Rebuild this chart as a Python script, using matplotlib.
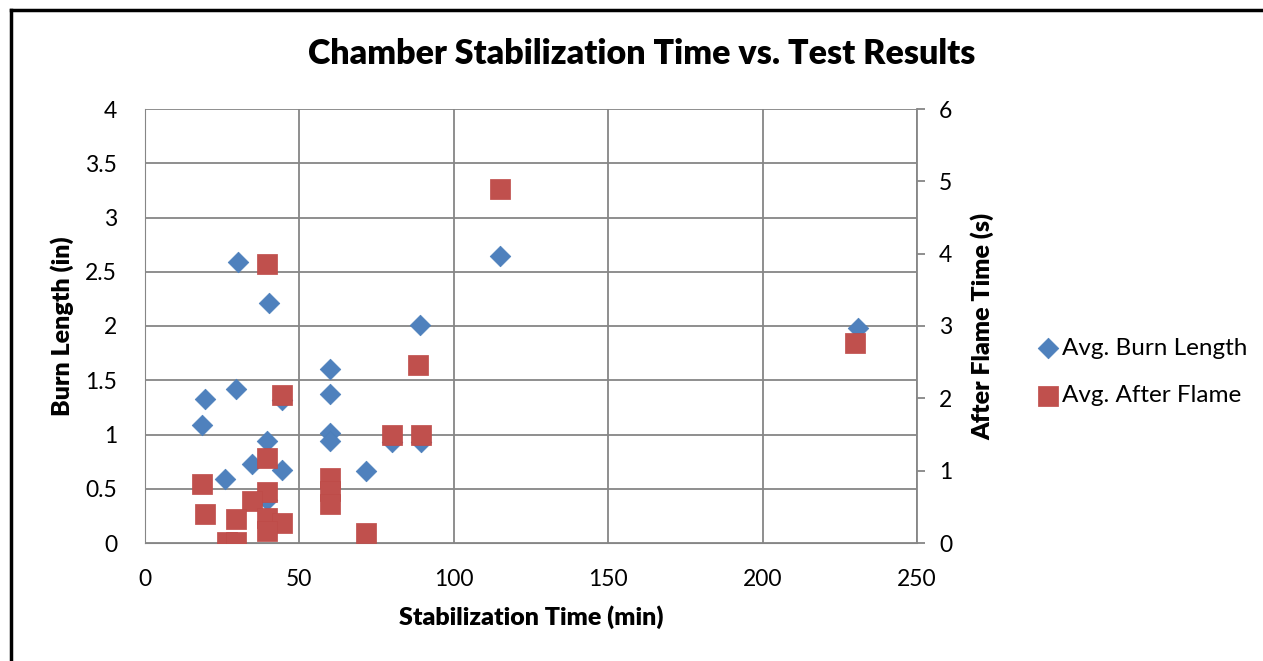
import matplotlib.pyplot as plt
from matplotlib.lines import Line2D

plt.rcParams['font.family'] = ['Lato', 'DejaVu Sans']

# stabilization time (min) vs average burn length (in)
burn_x = [30, 40, 115, 231, 89, 60, 60, 19.5, 29.5, 44.5, 18.5, 39.5, 34.5,
          44.5, 26, 39.5, 60, 60, 71.5, 80, 89.5]
burn_y = [2.59, 2.21, 2.645, 1.98, 2.01, 1.60, 1.37, 1.33, 1.42, 1.32, 1.09,
          0.94, 0.73, 0.67, 0.59, 0.40, 1.01, 0.94, 0.66, 0.93, 0.93]

# stabilization time (min) vs average after flame time (s)
flame_x = [39.5, 115, 230, 44.5, 88.5, 80, 89.5, 39.5, 18.5, 39.5, 34.5,
           19.5, 29.5, 39.5, 44.5, 39.5, 26.5, 29.5, 60, 60, 60, 71.5]
flame_y = [3.86, 4.90, 2.76, 2.05, 2.46, 1.50, 1.50, 1.17, 0.81, 0.70, 0.58,
           0.40, 0.33, 0.34, 0.28, 0.17, 0.01, 0.01, 0.90, 0.72, 0.54, 0.14]

BLUE = '#4F81BD'
RED = '#C0504D'
GRID = '#868686'

fig = plt.figure(figsize=(12.63, 6.61), dpi=100)
ax = fig.add_axes([145 / 1263, 1 - 543 / 661, 772 / 1263, 434 / 661])
ax2 = ax.twinx()

ax.scatter(burn_x, burn_y, marker='D', s=10.5 ** 2, color=BLUE,
           edgecolors='#4A7EBB', linewidths=0.5, zorder=3,
           label='Avg. Burn Length')
ax2.scatter(flame_x, flame_y, marker='s', s=14.5 ** 2, color=RED,
            edgecolors='#BE4B48', linewidths=0.5, zorder=3,
            label='Avg. After Flame')

ax.set_xlim(0, 250)
ax.set_ylim(0, 4)
ax2.set_ylim(0, 6)
ax.set_xticks(range(0, 251, 50))
ax.set_yticks([0, 0.5, 1, 1.5, 2, 2.5, 3, 3.5, 4])
ax.set_yticklabels(['0', '0.5', '1', '1.5', '2', '2.5', '3', '3.5', '4'])
ax2.set_yticks(range(0, 7))

ax.grid(True, color=GRID, linewidth=1.3)
ax.set_axisbelow(True)
for a in (ax, ax2):
    for s in a.spines.values():
        s.set_visible(False)
ax.spines['left'].set_visible(True)
ax.spines['left'].set_color(GRID)
ax.spines['bottom'].set_visible(True)
ax.spines['bottom'].set_color(GRID)
ax2.spines['right'].set_visible(True)
ax2.spines['right'].set_color(GRID)
ax2.spines['right'].set_linewidth(1.3)

ax.tick_params(axis='y', length=0, labelsize=16.5, pad=20)
ax.tick_params(axis='x', length=0, labelsize=16.5, pad=19)
ax2.tick_params(axis='y', length=6, color=GRID, width=1.3, labelsize=16.5, pad=10)

ax.set_xlabel('Stabilization Time (min)', fontsize=18, fontweight='heavy')
ax.set_ylabel('Burn Length (in)', fontsize=18, fontweight='heavy')
ax2.set_ylabel('After Flame Time (s)', fontsize=18, fontweight='heavy')
ax.xaxis.set_label_coords(0.5, (543 - 617) / 434)
ax.yaxis.set_label_coords((62 - 145) / 772, 0.5)
ax2.yaxis.set_label_coords((982 - 145) / 772, 0.5)
ax.xaxis.label.set_va('center')
ax.yaxis.label.set_va('center')
ax2.yaxis.label.set_va('center')

fig.text(642 / 1263, 1 - 54 / 661, 'Chamber Stabilization Time vs. Test Results',
         ha='center', va='center', fontsize=24.5, fontweight='heavy')

h1, l1 = ax.get_legend_handles_labels()
h2, l2 = ax2.get_legend_handles_labels()
fig.legend(h1 + h2, l1 + l2, loc='center left',
           bbox_to_anchor=(1026 / 1263, 1 - 372 / 661), frameon=False,
           fontsize=17.5, handletextpad=0.1, labelspacing=1.1,
           borderaxespad=0, handlelength=1.0)

# outer frame: only left and top edges show in the crop
fig.add_artist(Line2D([10.5 / 1263, 10.5 / 1263], [0, 1 - 9.5 / 661],
                      transform=fig.transFigure, color='black', linewidth=2.5))
fig.add_artist(Line2D([10.5 / 1263, 1.01], [1 - 9.5 / 661, 1 - 9.5 / 661],
                      transform=fig.transFigure, color='black', linewidth=2.5))

fig.savefig('out.png', dpi=100)
